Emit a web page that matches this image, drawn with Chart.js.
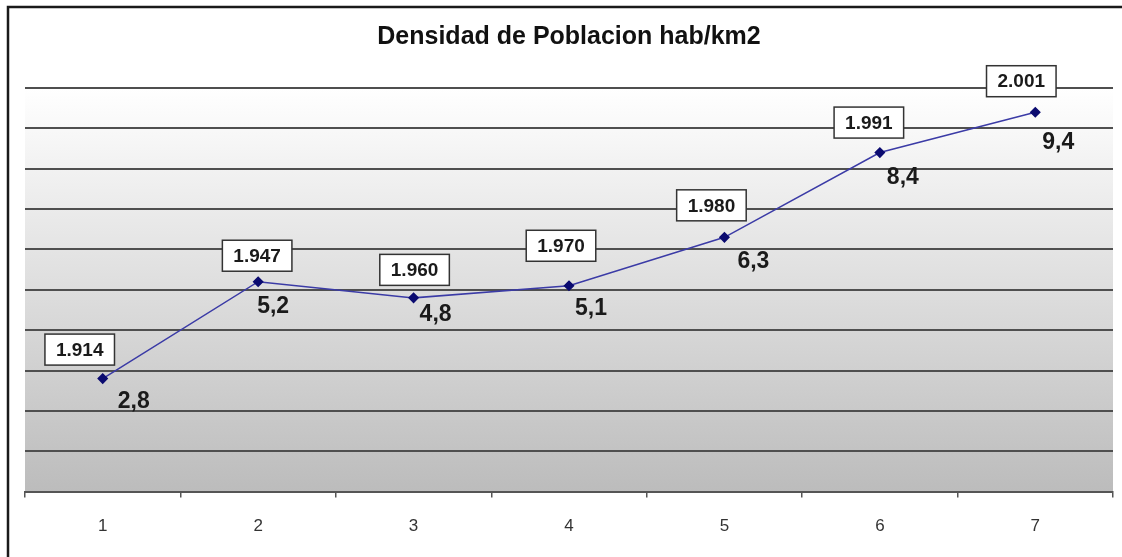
<!DOCTYPE html>
<html>
<head>
<meta charset="utf-8">
<title>Densidad de Poblacion</title>
<script src="https://cdn.jsdelivr.net/npm/chart.js@4"></script>
<style>
  html, body { margin: 0; padding: 0; background: #fff; }
  #wrap { width: 1122px; height: 557px; }
</style>
</head>
<body>
<div id="wrap"><canvas id="densidad-chart" width="1122" height="557"></canvas></div>
<script>
// Data
const categories = ['1', '2', '3', '4', '5', '6', '7'];
const years = ['1.914', '1.947', '1.960', '1.970', '1.980', '1.991', '2.001'];
const density = [2.8, 5.2, 4.8, 5.1, 6.3, 8.4, 9.4];

// Manual label placement (relative to each point), as in the original sheet
const yearBoxOffsets = [[-23, -29], [-1, -26], [1, -28], [-8, -40], [-13, -32], [-11, -30], [-14, -31]];
const valueOffsets = [[31, 23], [15, 25], [22, 17], [22, 23], [29, 24], [23, 25], [23, 30]];

const FONT = "'Liberation Sans', Arial, sans-serif";

// Frame + gradient plot background
const backgroundPlugin = {
    id: 'sheetBackground',
    beforeDraw(chart) {
        const ctx = chart.ctx;
        const area = chart.chartArea;
        ctx.save();
        ctx.fillStyle = '#ffffff';
        ctx.fillRect(0, 0, chart.width, chart.height);

        const grad = ctx.createLinearGradient(0, area.top, 0, area.bottom);
        grad.addColorStop(0, '#ffffff');
        grad.addColorStop(1, '#bcbcbc');
        ctx.fillStyle = grad;
        ctx.fillRect(area.left, area.top, area.right - area.left, area.bottom - area.top);

        // outer border (left and top are visible in the picture)
        ctx.strokeStyle = '#1a1a1a';
        ctx.lineWidth = 2.5;
        ctx.beginPath();
        ctx.moveTo(8, chart.height);
        ctx.lineTo(8, 7);
        ctx.lineTo(chart.width, 7);
        ctx.stroke();
        ctx.restore();
    }
};

// Year boxes above the points and values below them
const labelsPlugin = {
    id: 'pointLabels',
    afterDatasetsDraw(chart) {
        const ctx = chart.ctx;
        const meta = chart.getDatasetMeta(0);
        ctx.save();
        ctx.textAlign = 'center';
        ctx.textBaseline = 'middle';

        meta.data.forEach((pt, i) => {
            // year box
            const bx = pt.x + yearBoxOffsets[i][0];
            const by = pt.y + yearBoxOffsets[i][1];
            ctx.font = 'bold 19px ' + FONT;
            const w = ctx.measureText(years[i]).width + 22;
            const h = 31;
            ctx.fillStyle = '#ffffff';
            ctx.fillRect(bx - w / 2, by - h / 2, w, h);
            ctx.strokeStyle = '#333333';
            ctx.lineWidth = 1.5;
            ctx.strokeRect(bx - w / 2, by - h / 2, w, h);
            ctx.fillStyle = '#1a1a1a';
            ctx.fillText(years[i], bx, by + 1);

            // value
            ctx.font = 'bold 23px ' + FONT;
            ctx.fillStyle = '#1a1a1a';
            ctx.fillText(density[i].toFixed(1).replace('.', ','),
                pt.x + valueOffsets[i][0], pt.y + valueOffsets[i][1]);
        });
        ctx.restore();
    }
};

new Chart(document.getElementById('densidad-chart'), {
    type: 'line',
    data: {
        labels: categories,
        datasets: [{
            label: 'Densidad',
            data: density,
            borderColor: '#3b3ba6',
            borderWidth: 1.5,
            tension: 0,
            fill: false,
            pointStyle: 'rectRot',
            pointRadius: 4.5,
            pointBackgroundColor: '#0b0b70',
            pointBorderColor: '#0b0b70'
        }]
    },
    options: {
        responsive: false,
        animation: false,
        layout: {
            padding: { left: 25, right: 9, top: 0, bottom: 1 }
        },
        plugins: {
            legend: { display: false },
            tooltip: { enabled: false },
            title: {
                display: true,
                text: 'Densidad de Poblacion hab/km2',
                color: '#111111',
                font: { family: FONT, size: 25, weight: 'bold' },
                padding: { top: 22, bottom: 36 }
            }
        },
        scales: {
            x: {
                offset: true,
                grid: {
                    offset: true,
                    drawOnChartArea: false,
                    drawTicks: true,
                    tickLength: 6,
                    color: '#555555',
                    lineWidth: 1.5
                },
                border: { display: true, color: '#555555', width: 2 },
                ticks: {
                    padding: 19,
                    color: '#333333',
                    font: { family: FONT, size: 17 }
                }
            },
            y: {
                min: 0,
                max: 10,
                ticks: { display: false, stepSize: 1 },
                grid: {
                    drawTicks: false,
                    color: '#4f4f4f',
                    lineWidth: 2
                },
                border: { display: false }
            }
        }
    },
    plugins: [backgroundPlugin, labelsPlugin]
});
</script>
</body>
</html>
